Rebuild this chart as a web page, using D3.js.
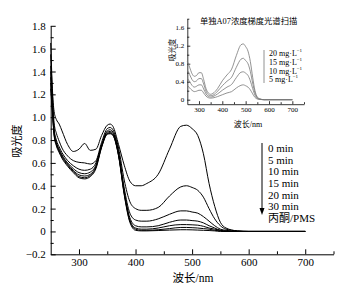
<!DOCTYPE html>
<html>
<head>
<meta charset="utf-8">
<script src="https://cdn.jsdelivr.net/npm/d3@7"></script>
<style>
  body { margin: 0; background: #fff; }
  text { font-family: "Liberation Serif", "Noto Sans CJK SC", serif; fill: #000; }
</style>
</head>
<body>
<svg id="chart" width="348" height="292"></svg>
<script>
// main spectra (wavelength / absorbance)
const wavelengths = [250,253,256,260,265,270,280,290,300,310,320,330,340,350,355,360,370,380,390,400,410,420,440,460,480,490,500,510,520,530,540,550,560,580,600,650,700];
const abs_0min  = [1.65,1.25,1.05,0.98,0.94,0.88,0.76,0.70,0.72,0.77,0.71,0.72,0.84,0.93,0.94,0.92,0.76,0.58,0.44,0.40,0.40,0.42,0.50,0.72,0.92,0.93,0.90,0.84,0.68,0.42,0.22,0.08,0.03,0.005,0,0,0];
const abs_5min  = [1.55,1.20,0.95,0.86,0.79,0.73,0.66,0.62,0.605,0.60,0.59,0.62,0.78,0.90,0.91,0.89,0.73,0.45,0.26,0.20,0.185,0.185,0.21,0.31,0.39,0.40,0.385,0.36,0.30,0.20,0.11,0.05,0.02,0.005,0,0,0];
const abs_10min = [1.45,1.15,0.90,0.80,0.74,0.69,0.62,0.575,0.545,0.535,0.545,0.60,0.76,0.88,0.89,0.87,0.70,0.38,0.16,0.10,0.09,0.09,0.11,0.15,0.18,0.18,0.17,0.16,0.13,0.09,0.05,0.02,0.01,0,0,0,0];
const abs_15min = [1.40,1.10,0.88,0.78,0.72,0.67,0.60,0.55,0.515,0.505,0.52,0.58,0.75,0.87,0.875,0.86,0.68,0.35,0.12,0.05,0.04,0.04,0.05,0.08,0.10,0.10,0.095,0.09,0.075,0.05,0.03,0.01,0.005,0,0,0,0];
const abs_20min = [1.35,1.08,0.86,0.77,0.71,0.66,0.59,0.535,0.495,0.485,0.50,0.57,0.745,0.86,0.865,0.85,0.67,0.34,0.10,0.03,0.02,0.02,0.03,0.05,0.06,0.06,0.058,0.055,0.045,0.03,0.02,0.01,0,0,0,0,0];
const abs_30min = [1.30,1.06,0.85,0.76,0.70,0.65,0.58,0.525,0.48,0.47,0.49,0.56,0.74,0.855,0.86,0.845,0.665,0.33,0.09,0.02,0.01,0.01,0.015,0.025,0.035,0.035,0.033,0.03,0.025,0.02,0.01,0.005,0,0,0,0,0];
const abs_pms   = [1.25,1.04,0.84,0.75,0.69,0.64,0.57,0.515,0.47,0.46,0.48,0.55,0.735,0.85,0.855,0.84,0.66,0.32,0.08,0.01,0.005,0.005,0.008,0.012,0.015,0.015,0.014,0.012,0.01,0.008,0.005,0,0,0,0,0,0];
const series_labels = ["0 min","5 min","10 min","15 min","20 min","30 min","丙酮/PMS"];

// inset: AO7 concentration gradient
const inset_wavelengths = [250,260,270,280,290,300,310,320,330,340,350,360,380,400,420,440,460,480,490,500,510,520,530,540,550,560,580,700];
const inset_20 = [0.85,0.72,0.58,0.52,0.54,0.60,0.60,0.45,0.25,0.15,0.12,0.14,0.25,0.42,0.55,0.68,0.98,1.22,1.24,1.18,1.08,0.85,0.50,0.20,0.06,0.02,0,0];
const inset_15 = [0.66,0.56,0.45,0.40,0.42,0.47,0.47,0.35,0.19,0.11,0.09,0.10,0.19,0.31,0.41,0.50,0.72,0.90,0.92,0.87,0.80,0.63,0.37,0.15,0.045,0.015,0,0];
const inset_10 = [0.48,0.40,0.32,0.28,0.30,0.33,0.33,0.24,0.13,0.075,0.06,0.07,0.13,0.21,0.28,0.34,0.49,0.61,0.62,0.59,0.54,0.42,0.25,0.10,0.03,0.01,0,0];
const inset_5  = [0.32,0.26,0.21,0.18,0.19,0.21,0.21,0.15,0.08,0.045,0.035,0.04,0.07,0.11,0.15,0.18,0.26,0.32,0.33,0.31,0.28,0.22,0.13,0.05,0.015,0.005,0,0];
const inset_labels = ["20","15","10","5"];

const y_major = [-0.2,0,0.2,0.4,0.6,0.8,1.0,1.2,1.4,1.6,1.8];
const y_minor = [-0.1,0.1,0.3,0.5,0.7,0.9,1.1,1.3,1.5,1.7];
const x_major = [300,400,500,600,700];
const x_minor = [350,450,550,650,750];
const inset_y_major = [0,0.4,0.8,1.2,1.6];
const inset_y_minor = [0.2,0.6,1.0,1.4,1.8];

const svg = d3.select("#chart");

// ---- main plot
const x = d3.scaleLinear().domain([250, 750]).range([50.7, 333.5]);
const y = d3.scaleLinear().domain([-0.2, 1.8]).range([254.3, 25.8]);

const yfmt = (d) => (Math.abs(d) < 1e-9 ? "0" : d3.format(".1f")(d));

function draw_axes(g, xs, ys, opt) {
    const xAx = g.append("g").attr("transform", `translate(0, ${ys.range()[0]})`);
    xAx.call(d3.axisBottom(xs).tickValues(opt.xMajor).tickSizeInner(-opt.major).tickSizeOuter(0)
        .tickPadding(opt.xPad).tickFormat(d3.format("d")));
    xAx.append("g").call(d3.axisBottom(xs).tickValues(opt.xMinor).tickSizeInner(-opt.minor).tickSizeOuter(0).tickFormat(""))
        .select(".domain").remove();
    const yAx = g.append("g").attr("transform", `translate(${xs.range()[0]}, 0)`);
    yAx.call(d3.axisLeft(ys).tickValues(opt.yMajor).tickSizeInner(-opt.major).tickSizeOuter(0)
        .tickPadding(opt.yPad).tickFormat(yfmt));
    yAx.append("g").call(d3.axisLeft(ys).tickValues(opt.yMinor).tickSizeInner(-opt.minor).tickSizeOuter(0).tickFormat(""))
        .select(".domain").remove();
    g.selectAll(".tick text").attr("font-size", opt.font).attr("font-family", null);
    g.selectAll("path.domain, .tick line").attr("stroke", opt.color).attr("stroke-width", opt.width);
}

const main_g = svg.append("g");
draw_axes(main_g, x, y, {
    xMajor: x_major, xMinor: x_minor, yMajor: y_major, yMinor: y_minor,
    major: 5, minor: 3, xPad: 4, yPad: 5, font: 11, color: "#000", width: 1
});

const main_line = d3.line()
    .x((d) => x(d[0]))
    .y((d) => y(d[1]))
    .curve(d3.curveMonotoneX);

[abs_0min, abs_5min, abs_10min, abs_15min, abs_20min, abs_30min, abs_pms].forEach((vals) => {
    main_g.append("path")
        .datum(wavelengths.map((w, i) => [w, vals[i]]))
        .attr("fill", "none")
        .attr("stroke", "#000")
        .attr("stroke-width", 1)
        .attr("d", main_line);
});

main_g.append("text")
    .attr("transform", "translate(17, 141) rotate(-90)")
    .attr("text-anchor", "middle")
    .attr("dominant-baseline", "central")
    .attr("font-size", 11)
    .text("吸光度");

main_g.append("text")
    .attr("x", 193).attr("y", 278)
    .attr("text-anchor", "middle")
    .attr("dominant-baseline", "central")
    .attr("font-size", 11.5)
    .text("波长/nm");

// legend with arrow
const leg_y = d3.scalePoint().domain(series_labels).range([148, 218]);
main_g.append("line")
    .attr("x1", 262).attr("x2", 262)
    .attr("y1", 143).attr("y2", 210)
    .attr("stroke", "#000").attr("stroke-width", 1);
main_g.append("path")
    .attr("d", "M259.5,208 L264.5,208 L262,215 Z")
    .attr("fill", "#000");
main_g.selectAll(".leg")
    .data(series_labels)
    .enter()
    .append("text")
    .attr("x", 268)
    .attr("y", (d) => leg_y(d))
    .attr("dominant-baseline", "central")
    .attr("font-size", 11)
    .text((d) => d);

// ---- inset
const ix = d3.scaleLinear().domain([250, 750]).range([187.3, 304]);
const iy = d3.scaleLinear().domain([-0.1, 1.8]).range([104.2, 18.7]);
const inset_g = svg.append("g");
draw_axes(inset_g, ix, iy, {
    xMajor: x_major, xMinor: x_minor, yMajor: inset_y_major, yMinor: inset_y_minor,
    major: 3, minor: 2, xPad: 3, yPad: 3, font: 7, color: "#000", width: 0.8
});

const inset_line = d3.line()
    .x((d) => ix(d[0]))
    .y((d) => iy(d[1]))
    .curve(d3.curveMonotoneX);

[inset_20, inset_15, inset_10, inset_5].forEach((vals) => {
    inset_g.append("path")
        .datum(inset_wavelengths.map((w, i) => [w, vals[i]]))
        .attr("fill", "none")
        .attr("stroke", "#777")
        .attr("stroke-width", 0.8)
        .attr("d", inset_line);
});

inset_g.append("text")
    .attr("x", 200).attr("y", 21.5)
    .attr("dominant-baseline", "central")
    .attr("font-size", 8.3)
    .text("单独A07浓度梯度光谱扫描");

inset_g.append("text")
    .attr("transform", "translate(172, 50) rotate(-90)")
    .attr("text-anchor", "middle")
    .attr("dominant-baseline", "central")
    .attr("font-size", 7.5)
    .text("吸光度");

inset_g.append("text")
    .attr("x", 248).attr("y", 124)
    .attr("text-anchor", "middle")
    .attr("dominant-baseline", "central")
    .attr("font-size", 8)
    .text("波长/nm");

const inset_leg_y = d3.scalePoint().domain(inset_labels).range([53.3, 79.3]);
inset_g.append("line")
    .attr("x1", 264).attr("x2", 264)
    .attr("y1", 50).attr("y2", 83)
    .attr("stroke", "#777").attr("stroke-width", 0.8);
const inset_leg = inset_g.selectAll(".ileg")
    .data(inset_labels)
    .enter()
    .append("text")
    .attr("x", 269)
    .attr("y", (d) => inset_leg_y(d))
    .attr("dominant-baseline", "central")
    .attr("font-size", 8);
inset_leg.append("tspan").text((d) => d + " mg·L");
inset_leg.append("tspan").attr("dy", -3).attr("font-size", 5).text("−1");
</script>
</body>
</html>
